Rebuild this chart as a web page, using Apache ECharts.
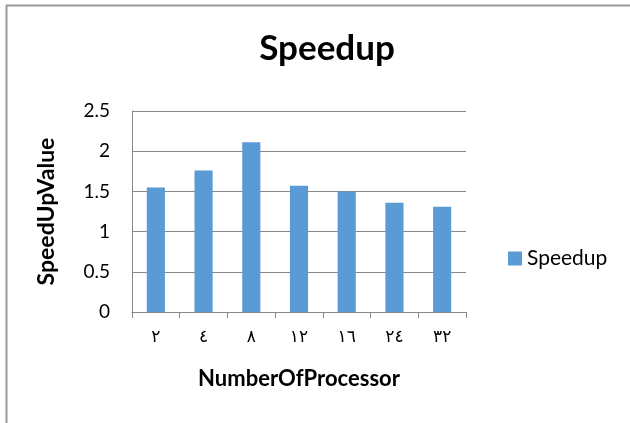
<!DOCTYPE html>
<html>
<head>
<meta charset="utf-8">
<script src="https://cdn.jsdelivr.net/npm/echarts@6/dist/echarts.min.js"></script>
<style>
  html, body { margin: 0; padding: 0; background: #fff; }
  #chart { width: 630px; height: 423px; }
</style>
</head>
<body>
<div id="chart"></div>
<script>
// Processor counts (Arabic-Indic numerals) and measured speedup
const processors = ['٢', '٤', '٨', '١٢', '١٦', '٢٤', '٣٢'];
const speedup = [1.55, 1.76, 2.11, 1.57, 1.50, 1.36, 1.31];
const yTicks = { min: 0, max: 2.5, interval: 0.5 };

const chart = echarts.init(document.getElementById('chart'), null, { renderer: 'canvas' });
const font = 'Lato, "Open Sans", sans-serif';

chart.setOption({
  animation: false,
  backgroundColor: '#fff',
  title: {
    text: 'Speedup',
    left: 322, top: 26,
    textAlign: 'center',
    textStyle: { fontFamily: font, fontWeight: 'bold', fontSize: 35, color: '#000' }
  },
  legend: {
    data: ['Speedup'],
    left: 503, top: 243,
    icon: 'rect', itemWidth: 14, itemHeight: 14, itemGap: 8,
    textStyle: { fontFamily: font, fontSize: 21, color: '#000' }
  },
  grid: { left: 132, right: 164, top: 111, bottom: 111 },
  xAxis: {
    type: 'category',
    data: processors,
    name: 'NumberOfProcessor',
    nameLocation: 'middle',
    nameGap: 56,
    nameTextStyle: { fontFamily: font, fontWeight: 'bold', fontSize: 22, color: '#000' },
    axisLine: { lineStyle: { color: '#888', width: 1 } },
    axisTick: { show: true, length: 6, alignWithLabel: false, lineStyle: { color: '#888' } },
    axisLabel: { fontFamily: '"DejaVu Sans", sans-serif', fontSize: 17, color: '#000', margin: 17 }
  },
  yAxis: {
    type: 'value',
    min: yTicks.min, max: yTicks.max, interval: yTicks.interval,
    name: 'SpeedUpValue',
    nameLocation: 'middle',
    nameGap: 74,
    nameTextStyle: { fontFamily: font, fontWeight: 'bold', fontSize: 23, color: '#000' },
    axisLine: { show: true, lineStyle: { color: '#888', width: 1 } },
    axisTick: { show: false },
    axisLabel: { fontFamily: font, fontSize: 19, color: '#000', margin: 22 },
    splitLine: { lineStyle: { color: '#888', width: 1 } }
  },
  series: [{
    name: 'Speedup',
    type: 'bar',
    data: speedup,
    barWidth: '38%',
    itemStyle: { color: '#5b9bd5' }
  }],
  graphic: [
    { type: 'line', shape: { x1: 6, y1: 5.5, x2: 630, y2: 5.5 }, style: { stroke: '#999', lineWidth: 2 } },
    { type: 'line', shape: { x1: 6.5, y1: 5, x2: 6.5, y2: 423 }, style: { stroke: '#999', lineWidth: 2 } }
  ]
});
</script>
</body>
</html>
